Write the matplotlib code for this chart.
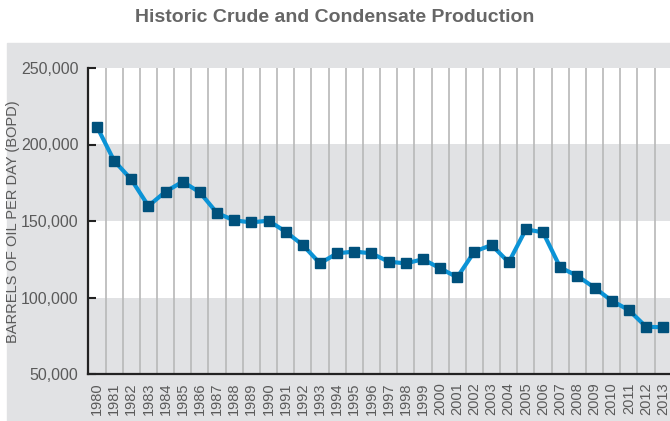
import matplotlib.pyplot as plt
from matplotlib.patches import Rectangle
from matplotlib.ticker import FuncFormatter

years = list(range(1980, 2014))
bopd = [211700, 189400, 177200, 159800, 169200, 175700, 168700, 155200, 150400, 149100,
        150200, 143000, 134300, 122300, 128900, 130000, 128900, 123400, 122300, 125000,
        119100, 113200, 130000, 134300, 123000, 144500, 142600, 119700, 114100, 106400,
        97900, 91800, 80900, 80500]
yticks = [50000, 100000, 150000, 200000, 250000]
gray_bands = [(50000, 100000), (150000, 200000)]

plt.rcParams['font.family'] = ['Liberation Sans', 'DejaVu Sans']

fig = plt.figure(figsize=(6.7, 4.21), dpi=100)
fig.patches.append(Rectangle((7 / 670, 0), 1 - 7 / 670, 1 - 43 / 421,
                             transform=fig.transFigure, color="#e1e2e4", zorder=-10))

ax = fig.add_axes([88 / 670, 1 - 374 / 421, 1 - 88 / 670, (374 - 68) / 421])
ax.set_facecolor("white")
for lo, hi in gray_bands:
    ax.axhspan(lo, hi, color="#e1e2e4", zorder=0, lw=0)

for y in years[:-1]:
    ax.axvline(y + 0.5, color="#b8b8b8", lw=1.2, zorder=1)

ax.plot(years, bopd, color="#0b93d6", lw=3, marker="s", ms=6.8,
        mfc="#00517c", mec="#00517c", zorder=3, clip_on=False)

ax.set_xlim(1979.48, 2013.4)
ax.set_ylim(50000, 250000)
ax.set_yticks(yticks)
ax.yaxis.set_major_formatter(FuncFormatter(lambda v, p: f"{int(v):,}"))
ax.set_xticks(years)
ax.set_xticklabels([str(y) for y in years], rotation=90)

ax.tick_params(axis="y", direction="in", length=6, width=1.5, color="#222222",
               labelsize=11.5, labelcolor="#5a5a5a", pad=7)
ax.tick_params(axis="x", length=0, labelsize=10.5, labelcolor="#5a5a5a", pad=6)

for s in ["top", "right"]:
    ax.spines[s].set_visible(False)
for s in ["left", "bottom"]:
    ax.spines[s].set_color("#222222")
    ax.spines[s].set_linewidth(1.6)

fig.text(13 / 670, 1 - 222 / 421, "BARRELS OF OIL PER DAY (BOPD)", rotation=90,
         ha="center", va="center", fontsize=10.5, color="#5a5a5a")
fig.text(0.5, 1 - 18 / 421, "Historic Crude and Condensate Production",
         ha="center", va="center", fontsize=14, fontweight="bold", color="#666666")

fig.savefig("out.png", dpi=100)
